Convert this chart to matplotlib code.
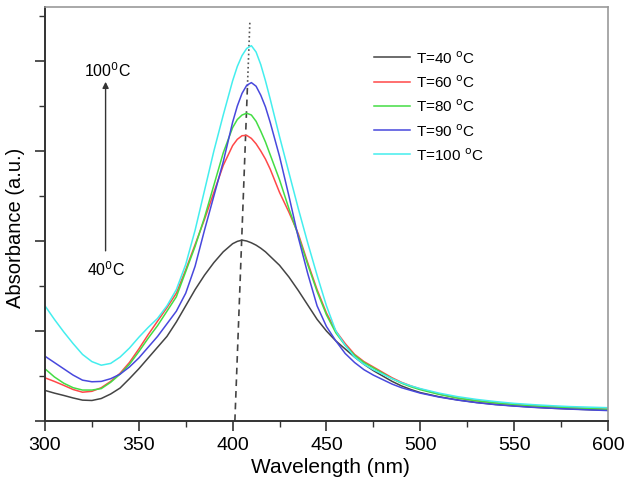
import matplotlib
matplotlib.use("Agg")
import matplotlib.pyplot as plt
from matplotlib.ticker import MultipleLocator

plt.rcParams['font.family'] = ['Liberation Sans', 'DejaVu Sans']

# wavelength grid (nm)
wl = [300, 305, 310, 315, 320, 325, 330, 335, 340, 345, 350, 355, 360, 365,
      370, 375, 380, 385, 390, 395, 400, 402.5, 405, 407.5, 410, 412.5, 415,
      417.5, 420, 425, 430, 435, 440, 445, 450, 455, 460, 465, 470, 475, 480,
      485, 490, 495, 500, 510, 520, 530, 540, 550, 560, 570, 580, 590, 600]

abs_40 = [0.17, 0.155, 0.142, 0.128, 0.116, 0.114, 0.125, 0.150, 0.183, 0.235,
          0.29, 0.35, 0.41, 0.47, 0.55, 0.64, 0.73, 0.81, 0.88, 0.94, 0.985,
          0.998, 1.005, 1.0, 0.99, 0.977, 0.960, 0.940, 0.915, 0.865, 0.80,
          0.725, 0.645, 0.565, 0.50, 0.445, 0.40, 0.355, 0.315, 0.28, 0.25,
          0.22, 0.195, 0.175, 0.158, 0.135, 0.117, 0.103, 0.092, 0.084, 0.077,
          0.071, 0.067, 0.063, 0.060]

abs_60 = [0.24, 0.22, 0.198, 0.175, 0.16, 0.165, 0.185, 0.22, 0.265, 0.325,
          0.40, 0.48, 0.555, 0.63, 0.71, 0.84, 0.98, 1.12, 1.27, 1.42, 1.53,
          1.565, 1.585, 1.587, 1.57, 1.54, 1.50, 1.455, 1.40, 1.27, 1.16,
          1.04, 0.88, 0.73, 0.60, 0.50, 0.43, 0.37, 0.33, 0.30, 0.27, 0.24,
          0.215, 0.195, 0.178, 0.15, 0.128, 0.113, 0.101, 0.092, 0.085,
          0.079, 0.074, 0.070, 0.066]

abs_80 = [0.29, 0.245, 0.21, 0.185, 0.172, 0.172, 0.18, 0.215, 0.26, 0.315,
          0.385, 0.46, 0.53, 0.61, 0.69, 0.83, 0.97, 1.13, 1.31, 1.49, 1.63,
          1.675, 1.70, 1.71, 1.70, 1.665, 1.61, 1.55, 1.48, 1.34, 1.18, 1.03,
          0.87, 0.72, 0.59, 0.49, 0.42, 0.365, 0.325, 0.295, 0.265, 0.235,
          0.21, 0.19, 0.174, 0.148, 0.127, 0.112, 0.100, 0.091, 0.084,
          0.078, 0.073, 0.069, 0.065]

abs_90 = [0.36, 0.325, 0.29, 0.255, 0.227, 0.218, 0.22, 0.235, 0.26, 0.30,
          0.35, 0.41, 0.47, 0.54, 0.61, 0.71, 0.86, 1.06, 1.25, 1.44, 1.66,
          1.75, 1.82, 1.865, 1.88, 1.86, 1.81, 1.745, 1.66, 1.47, 1.25, 1.02,
          0.82, 0.64, 0.525, 0.445, 0.375, 0.325, 0.285, 0.255, 0.23, 0.205,
          0.185, 0.17, 0.155, 0.133, 0.116, 0.102, 0.091, 0.083, 0.076,
          0.071, 0.066, 0.062, 0.058]

abs_100 = [0.64, 0.565, 0.495, 0.43, 0.37, 0.33, 0.31, 0.32, 0.355, 0.405,
           0.465, 0.52, 0.57, 0.64, 0.73, 0.87, 1.06, 1.28, 1.50, 1.70, 1.89,
           1.97, 2.03, 2.07, 2.085, 2.05, 1.98, 1.89, 1.79, 1.58, 1.38, 1.18,
           0.99, 0.81, 0.64, 0.50, 0.42, 0.355, 0.315, 0.285, 0.26, 0.235,
           0.213, 0.195, 0.18, 0.155, 0.135, 0.12, 0.108, 0.098, 0.091,
           0.085, 0.080, 0.077, 0.074]

series = [abs_40, abs_60, abs_80, abs_90, abs_100]
labels = ['T=40 $^{\\rm o}$C', 'T=60 $^{\\rm o}$C', 'T=80 $^{\\rm o}$C',
          'T=90 $^{\\rm o}$C', 'T=100 $^{\\rm o}$C']
colors = ['#444444', '#ff4848', '#44dd44', '#4848dd', '#44eeee']

# peak-shift guide line (wavelength, absorbance)
guide_bottom = (401.2, 0.0)
guide_mid = (407.9, 1.86)
guide_top = (409.2, 2.22)

fig = plt.figure(figsize=(6.29, 4.89), dpi=100)
ax = fig.add_axes([0.0715, 0.137, 0.895, 0.8466])

for y, lab, c in zip(series, labels, colors):
    ax.plot(wl, y, color=c, lw=1.1, label=lab)

ax.plot([guide_bottom[0], guide_mid[0]], [guide_bottom[1], guide_mid[1]],
        color='#444444', lw=1.2, dashes=(4, 3), zorder=1)
ax.plot([guide_mid[0], guide_top[0]], [guide_mid[1], guide_top[1]],
        color='#555555', lw=1.2, ls=':', zorder=1)

ax.annotate('', xy=(332.3, 1.90), xytext=(332.3, 0.93),
            arrowprops=dict(arrowstyle='-|>', color='#333333', lw=1.0,
                            mutation_scale=9))
ax.text(333.5, 1.95, '100$^{\\rm 0}$C', ha='center', va='center', fontsize=11.5)
ax.text(332.5, 0.845, '40$^{\\rm 0}$C', ha='center', va='center', fontsize=11.5)

ax.set_xlim(300, 600)
ax.set_ylim(0, 2.3)
ax.xaxis.set_major_locator(MultipleLocator(50))
ax.xaxis.set_minor_locator(MultipleLocator(25))
ax.yaxis.set_major_locator(MultipleLocator(0.5))
ax.yaxis.set_minor_locator(MultipleLocator(0.25))
ax.set_yticklabels([])
ax.tick_params(which='major', direction='out', length=7, width=1.2,
               labelsize=14, color='#333333', pad=4)
ax.tick_params(which='minor', direction='out', length=4, width=1.0,
               color='#333333')

for side in ['left', 'bottom']:
    ax.spines[side].set_color('#333333')
    ax.spines[side].set_linewidth(1.4)
for side in ['top', 'right']:
    ax.spines[side].set_color('#999999')
    ax.spines[side].set_linewidth(1.2)

ax.set_xlabel('Wavelength (nm)', fontsize=15)
ax.xaxis.set_label_coords(0.507, -0.088)
ax.set_ylabel('Absorbance (a.u.)', fontsize=14.5)
ax.yaxis.set_label_coords(-0.036, 0.469)

ax.legend(loc='upper left', bbox_to_anchor=(0.584, 0.898), frameon=False,
          fontsize=11, handlelength=2.4, handletextpad=0.35,
          labelspacing=0.5, borderpad=0, borderaxespad=0)

fig.savefig('out.png', dpi=100)
